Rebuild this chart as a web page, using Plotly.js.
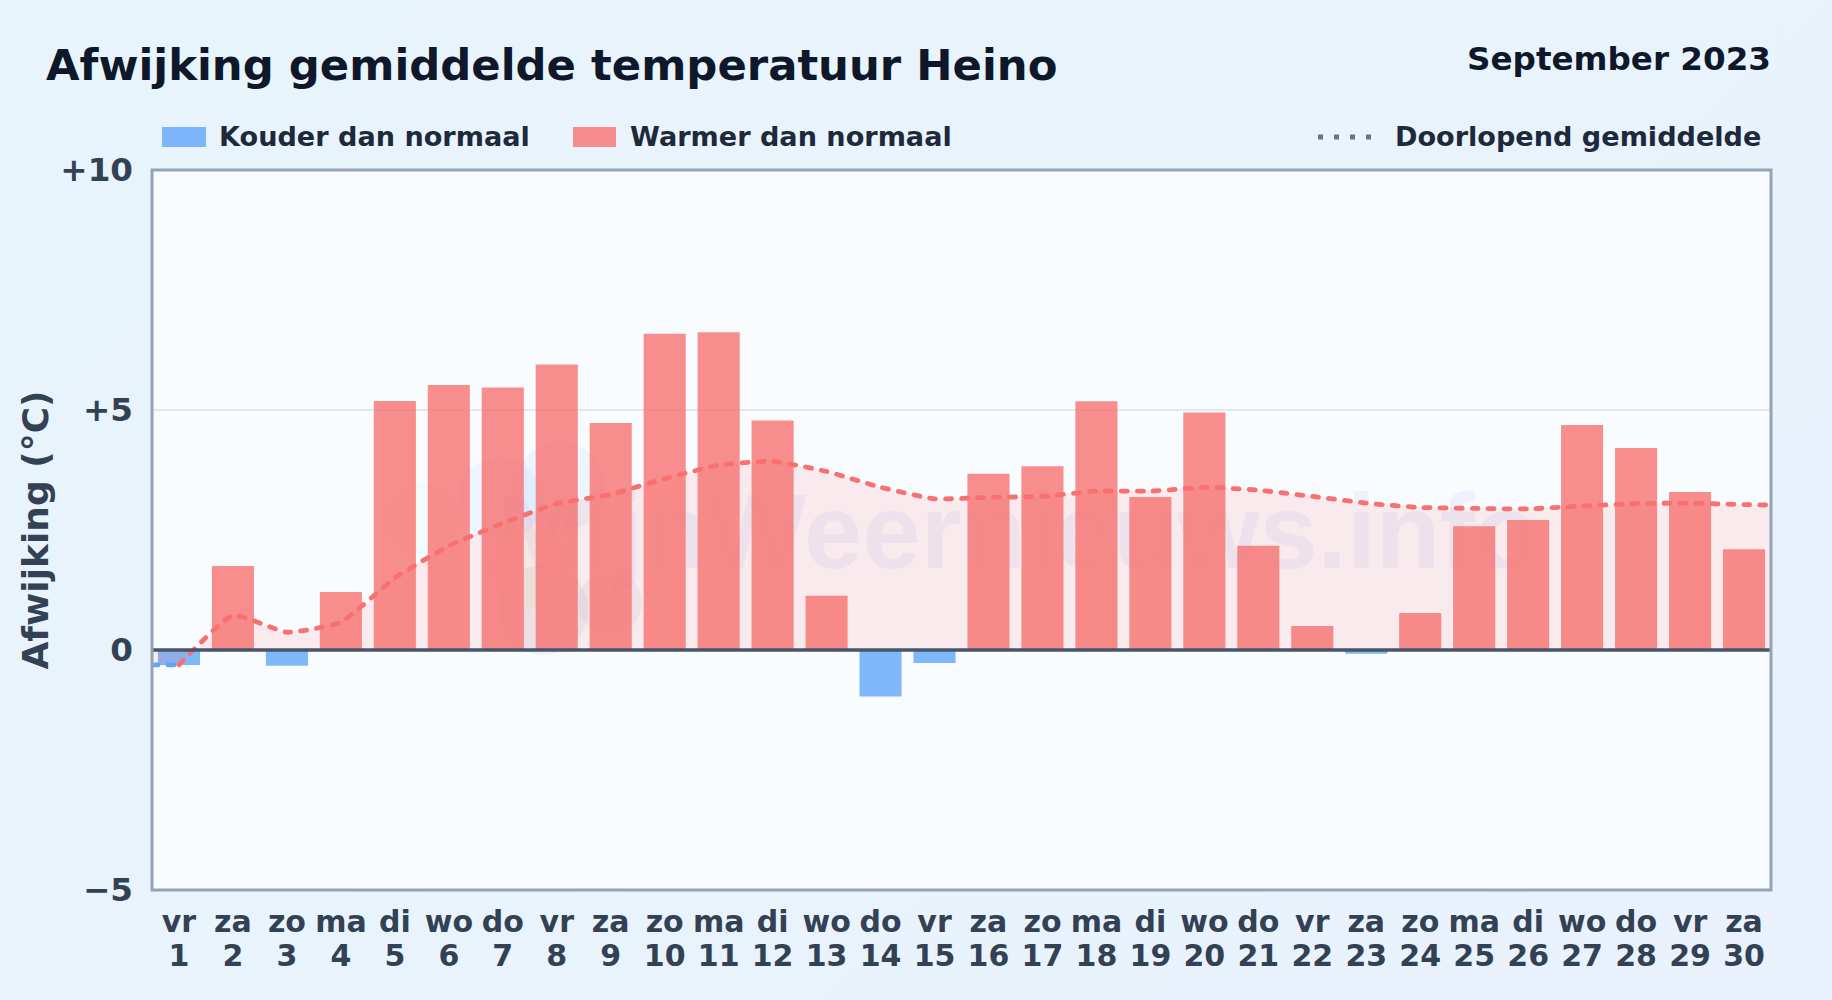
<!DOCTYPE html>
<html><head><meta charset="utf-8">
<script src="https://cdn.plot.ly/plotly-3.0.1.min.js"></script>
<style>
html,body{margin:0;padding:0;width:1832px;height:1000px;overflow:hidden;background:linear-gradient(135deg,#e8f4fc,#e9f2fc);}
#chart{width:1832px;height:1000px;}
.scatterlayer path.js-line{stroke-linecap:round !important;}
</style></head><body><div id="chart"></div>
<script>
const days=[1,2,3,4,5,6,7,8,9,10,11,12,13,14,15,16,17,18,19,20,21,22,23,24,25,26,27,28,29,30];
const weekdays=["vr","za","zo","ma","di","wo","do","vr","za","zo","ma","di","wo","do","vr","za","zo","ma","di","wo","do","vr","za","zo","ma","di","wo","do","vr","za"];
const deviation=[-0.31,1.75,-0.33,1.21,5.19,5.52,5.47,5.95,4.73,6.59,6.62,4.78,1.13,-0.97,-0.27,3.67,3.83,5.18,3.19,4.95,2.17,0.5,-0.08,0.77,2.58,2.71,4.69,4.21,3.29,2.10];
const runningMean=[-0.31,0.72,0.37,0.58,1.5,2.17,2.64,3.05,3.24,3.57,3.85,3.93,3.72,3.39,3.15,3.18,3.2,3.31,3.31,3.39,3.33,3.2,3.06,2.97,2.95,2.94,3.0,3.05,3.06,3.03];
const edgeLeft=[0.5,-0.31], edgeRight=[30.5,3.02];
const yTicks=[10,5,0,-5], yLabels=["+10","+5","0","−5"];
const W=1832,H=1000,L=152,R=1771,T=170,B=890;
const px=x=>(x-L)/(R-L), py=y=>(B-y)/(B-T);
const dark="#0f172a",mid="#1e293b",slate="#334155";
const font=(s,c)=>({family:"DejaVu Sans",size:s,color:c,weight:700});
const note=(t,x,y,s,c,a)=>({text:t,xref:"paper",yref:"paper",x:px(x),y:py(y),xanchor:a||"left",yanchor:"middle",showarrow:false,font:font(s,c)});
const disc=(cx,cy,r,c)=>({type:"circle",layer:"below",xref:"paper",yref:"paper",x0:px(cx-r),x1:px(cx+r),y0:py(cy+r),y1:py(cy-r),fillcolor:c,line:{width:0}});
const barColors=deviation.map(v=>v<0?"rgba(96,165,250,0.8)":"rgba(248,113,113,0.8)");
const fillX=[edgeLeft[0],...days,edgeRight[0]], fillY=[edgeLeft[1],...runningMean,edgeRight[1]];
const traces=[
 {type:"bar",x:days,y:deviation,width:0.78,marker:{color:barColors,line:{width:0}},hoverinfo:"x+y",showlegend:false},
 {type:"scatter",mode:"lines",x:fillX,y:fillY,line:{shape:"spline",smoothing:0.45,width:0,color:"rgba(0,0,0,0)"},fill:"tozeroy",fillcolor:"rgba(248,113,113,0.13)",hoverinfo:"skip",showlegend:false},
 {type:"scatter",mode:"lines",x:[edgeLeft[0],days[0]],y:[edgeLeft[1],runningMean[0]],line:{color:"#60a5fa",width:4.8,dash:"6px,10px"},hoverinfo:"skip",showlegend:false},
 {type:"scatter",mode:"lines",x:[...days,edgeRight[0]],y:[...runningMean,edgeRight[1]],line:{shape:"spline",smoothing:0.45,color:"#f87171",width:4.8,dash:"6px,10px"},showlegend:false},
 {type:"scatter",mode:"lines",xaxis:"x2",yaxis:"y",x:days,y:days.map(()=>null),hoverinfo:"skip",showlegend:false}
];
const layout={
 width:W,height:H,autosize:false,
 margin:{l:L,r:W-R,t:T,b:H-B,pad:0},
 paper_bgcolor:"rgba(0,0,0,0)",plot_bgcolor:"#f8fcff",
 bargap:0.22,
 title:{text:"Afwijking gemiddelde temperatuur Heino",x:46/W,xref:"container",xanchor:"left",y:1-65/H,yref:"container",yanchor:"middle",font:font(43.35,dark)},
 xaxis:{range:[0.5,30.5],tickmode:"array",tickvals:days,ticktext:weekdays,tickfont:font(30,slate),showgrid:false,zeroline:false,showline:false,ticks:"",ticklabelstandoff:11,tickangle:0},
 xaxis2:{overlaying:"x",anchor:"y",side:"bottom",range:[0.5,30.5],tickmode:"array",tickvals:days,ticktext:days.map(String),tickfont:font(30,slate),showgrid:false,zeroline:false,showline:false,ticks:"",ticklabelstandoff:45,tickangle:0},
 yaxis:{range:[-5,10],tickmode:"array",tickvals:yTicks,ticktext:yLabels,tickfont:font(32.6,slate),showgrid:true,gridcolor:"#e2e8f0",gridwidth:2,zeroline:false,showline:false,ticks:"",ticklabelstandoff:18,
  title:{text:"Afwijking (°C)",font:font(36,slate),standoff:0}},
 shapes:[
  disc(422,520,38,"rgba(187,247,208,0.1)"),
  disc(500,500,42,"rgba(147,197,253,0.13)"),
  disc(560,487,45,"rgba(147,197,253,0.13)"),
  disc(530,567,42,"rgba(253,224,138,0.12)"),
  disc(610,603,32,"rgba(148,163,184,0.1)"),
  disc(543,610,45,"rgba(148,163,184,0.12)"),
  {type:"rect",layer:"below",xref:"paper",yref:"paper",x0:px(496),x1:px(1540),y0:py(571),y1:py(471),fillcolor:"rgba(0,0,0,0)",line:{width:0},
   label:{text:"MijnWeernieuws.info",textposition:"middle center",font:{family:"Liberation Sans",size:105,weight:700,color:"rgba(80,130,235,0.07)"}}},
  {type:"line",layer:"above",xref:"paper",yref:"y",x0:0,x1:1,y0:0,y1:0,line:{color:"#475569",width:3.5}},
  {type:"rect",layer:"above",xref:"paper",yref:"paper",x0:0,x1:1,y0:0,y1:1,fillcolor:"rgba(0,0,0,0)",line:{color:"#94a3b8",width:3}},
  {type:"rect",xref:"paper",yref:"paper",x0:px(162),x1:px(206),y0:py(147),y1:py(127),fillcolor:"rgba(96,165,250,0.8)",line:{width:0}},
  {type:"rect",xref:"paper",yref:"paper",x0:px(573),x1:px(616),y0:py(147),y1:py(127),fillcolor:"rgba(248,113,113,0.8)",line:{width:0}},
  {type:"line",xref:"paper",yref:"paper",x0:px(1318),x1:px(1374),y0:py(137),y1:py(137),line:{color:"#64748b",width:5,dash:"5px,11px"}}
 ],
 annotations:[
  note("September 2023",1773,59,32.6,dark,"right"),
  note("Kouder dan normaal",217,137,27.1,mid),
  note("Warmer dan normaal",628,137,27.1,mid),
  note("Doorlopend gemiddelde",1393,137,27.1,mid)
 ]
};
Plotly.newPlot("chart",traces,layout,{displayModeBar:false,responsive:false});
</script></body></html>
